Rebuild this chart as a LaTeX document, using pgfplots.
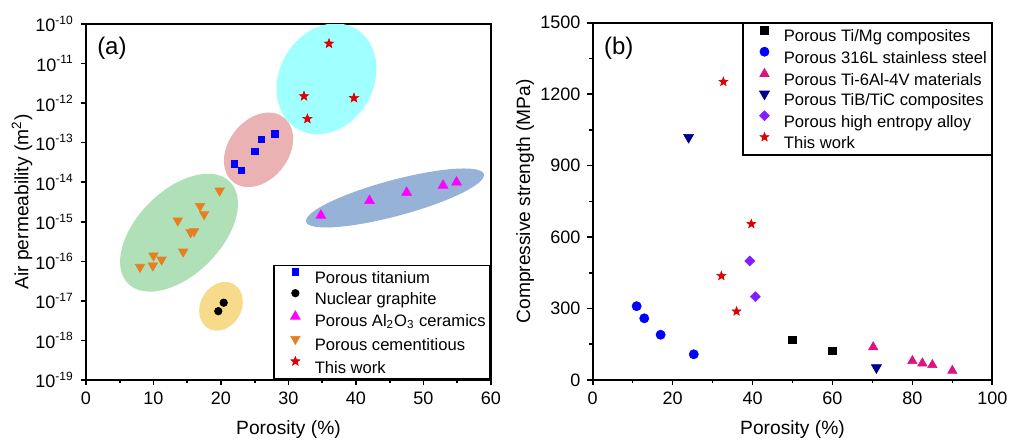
\documentclass[border=0pt]{standalone}
\usepackage{fontspec}
\setmainfont{Liberation Sans}
\usepackage{pgfplots}
\pgfplotsset{compat=1.18}

\definecolor{cBlue}{RGB}{0,0,255}
\definecolor{cMag}{RGB}{255,0,255}
\definecolor{cOrange}{RGB}{230,126,34}
\definecolor{cRed}{RGB}{222,0,0}
\definecolor{cPink}{RGB}{220,20,130}
\definecolor{cNavy}{RGB}{0,0,140}
\definecolor{cPurple}{RGB}{130,30,255}
\definecolor{eCyan}{RGB}{160,255,255}
\definecolor{ePink}{RGB}{234,178,178}
\definecolor{eGreen}{RGB}{176,224,184}
\definecolor{eYellow}{RGB}{247,219,138}
\definecolor{eBlue}{RGB}{150,178,214}

\newcommand{\lst}{\rule[-1.6pt]{0pt}{1.6pt}}

\pgfdeclareplotmark{fstar}{%
  \pgfpathmoveto{\pgfpointpolar{90}{\pgfplotmarksize}}%
  \pgfpathlineto{\pgfpointpolar{126}{0.42\pgfplotmarksize}}%
  \pgfpathlineto{\pgfpointpolar{162}{\pgfplotmarksize}}%
  \pgfpathlineto{\pgfpointpolar{198}{0.42\pgfplotmarksize}}%
  \pgfpathlineto{\pgfpointpolar{234}{\pgfplotmarksize}}%
  \pgfpathlineto{\pgfpointpolar{270}{0.42\pgfplotmarksize}}%
  \pgfpathlineto{\pgfpointpolar{306}{\pgfplotmarksize}}%
  \pgfpathlineto{\pgfpointpolar{342}{0.42\pgfplotmarksize}}%
  \pgfpathlineto{\pgfpointpolar{18}{\pgfplotmarksize}}%
  \pgfpathlineto{\pgfpointpolar{54}{0.42\pgfplotmarksize}}%
  \pgfpathclose\pgfusepathqfillstroke}

\pgfplotsset{
  common/.style={
    scale only axis, anchor=south west,
    tick align=outside, tick pos=left,
    axis line style={line width=0.8pt, black},
    every tick/.style={line width=0.8pt, black},
    major tick length=2.6pt, minor tick length=1.6pt,
    tick label style={font=\fontsize{9}{10}\selectfont},
    label style={font=\fontsize{9.6}{11}\selectfont},
    /pgf/number format/assume math mode=true,
    /pgf/number format/1000 sep={},
    xlabel style={at={(axis description cs:0.5,-0.14)}, anchor=center},
    legend image code/.code={\path[draw=none,fill=none] (0pt,2.9pt) (17pt,2.9pt); \draw[##1] plot coordinates {(8.5pt,2.9pt)};},
    legend cell align=left,
  },
  lstyle/.style={
    draw=black, line width=0.8pt, fill=white,
    font=\fontsize{8.3}{10}\selectfont,
    inner xsep=2.3pt, inner ysep=1.5pt,
    row sep=1.3pt, column sep=1.2pt,
    nodes={inner sep=0pt, text height=7.5pt, text depth={}},
  },
}

\begin{document}
\begin{tikzpicture}
\useasboundingbox (0pt,0pt) rectangle (504.5pt,220pt);

% ---------------- (a)
\begin{axis}[common,
  at={(43pt,30pt)}, width=202.5pt, height=178pt,
  xmin=0, xmax=60, xtick={0,10,...,60}, minor x tick num=1,
  ymode=log, ymin=1e-19, ymax=1e-10,
  ytick={1e-19,1e-18,1e-17,1e-16,1e-15,1e-14,1e-13,1e-12,1e-11,1e-10},
  yticklabels={10\textsuperscript{-19},10\textsuperscript{-18},10\textsuperscript{-17},10\textsuperscript{-16},10\textsuperscript{-15},10\textsuperscript{-14},10\textsuperscript{-13},10\textsuperscript{-12},10\textsuperscript{-11},10\textsuperscript{-10}},
  yminorticks=false,
  xlabel={Porosity (\%)},
  ylabel={Air permeability (m\textsuperscript{2})},
  ylabel style={at={(axis description cs:-0.158,0.5)}, anchor=center},
  legend style={lstyle, at={(1,0)}, anchor=south east},
]
\fill[eCyan, rotate around={60:(axis cs:35.63,4.11e-12)}] (axis cs:35.63,4.11e-12) ellipse [x radius=29pt, y radius=23.5pt];
\fill[ePink, rotate around={52:(axis cs:25.56,6.6e-14)}] (axis cs:25.56,6.6e-14) ellipse [x radius=20.5pt, y radius=15pt];
\fill[eGreen, rotate around={45:(axis cs:13.78,5.3e-16)}] (axis cs:13.78,5.3e-16) ellipse [x radius=36pt, y radius=21pt];
\fill[eYellow, rotate around={60:(axis cs:20.0,7.3e-18)}] (axis cs:20.0,7.3e-18) ellipse [x radius=12.75pt, y radius=10.25pt];
\fill[eBlue, rotate around={15:(axis cs:45.78,4.0e-15)}] (axis cs:45.78,4.0e-15) ellipse [x radius=46pt, y radius=9pt];

\addplot[only marks, mark=square*, mark size=1.6pt, color=cBlue, mark options={line width=0.3pt}]
  coordinates {(22.0,2.9e-14) (23.0,2.0e-14) (25.0,6.0e-14) (26.0,1.2e-13) (28.0,1.66e-13)};
\addlegendentry{\lst Porous titanium}
\addplot[only marks, mark=*, mark size=1.9pt, color=black, mark options={line width=0.3pt}]
  coordinates {(19.6,5.5e-18) (20.4,9.0e-18)};
\addlegendentry{\lst Nuclear graphite}
\addplot[only marks, mark=triangle*, mark size=2.8pt, color=cMag, mark options={line width=0.3pt}]
  coordinates {(34.8,1.45e-15) (42.0,3.4e-15) (47.5,5.5e-15) (52.9,8.3e-15) (54.9,1.0e-14)};
\addlegendentry{\rule[-3.4pt]{0pt}{3.4pt}Porous Al\textsubscript{2}O\textsubscript{3} ceramics}
\addplot[only marks, mark=triangle*, mark size=2.7pt, color=cOrange, mark options={rotate=180, line width=0.3pt}]
  coordinates {(8.0,7.2e-17) (9.9,7.8e-17) (10.0,1.4e-16) (11.2,1.1e-16) (13.6,1.07e-15) (14.4,1.75e-16) (15.5,5.4e-16) (16.0,5.7e-16) (16.9,2.5e-15) (17.5,1.55e-15) (19.8,6.1e-15)};
\addlegendentry{\lst Porous cementitious}
\addplot[only marks, mark=fstar, mark size=2.4pt, color=cRed, mark options={line width=0.3pt}]
  coordinates {(36.0,3.2e-11) (32.3,1.5e-12) (39.7,1.35e-12) (32.8,4.0e-13)};
\addlegendentry{\lst This work}
\node[font=\fontsize{12}{14}\selectfont] at (axis description cs:0.064,0.931) {(a)};
\end{axis}

% ---------------- (b)
\begin{axis}[common,
  at={(296.35pt,30pt)}, width=199.8pt, height=178.65pt,
  xmin=0, xmax=100, xtick={0,20,...,100}, minor x tick num=1,
  ymin=0, ymax=1500, ytick={0,300,...,1500}, minor y tick num=1,
  scaled y ticks=false,
  xlabel={Porosity (\%)},
  ylabel={Compressive strength (MPa)},
  ylabel style={at={(axis description cs:-0.169,0.5)}, anchor=center},
  legend style={lstyle, at={(1,1)}, anchor=north east, row sep=0.9pt},
]
\addplot[only marks, mark=square*, mark size=1.9pt, color=black, mark options={line width=0.3pt}]
  coordinates {(50.0,168) (60.0,122)};
\addlegendentry{\lst Porous Ti/Mg composites}
\addplot[only marks, mark=*, mark size=2.3pt, color=cBlue, mark options={line width=0.3pt}]
  coordinates {(11.0,310) (12.9,259) (17.0,190) (25.3,108)};
\addlegendentry{\lst Porous 316L stainless steel}
\addplot[only marks, mark=triangle*, mark size=2.7pt, color=cPink, mark options={line width=0.3pt}]
  coordinates {(70.2,138) (80.0,80) (82.5,70) (85.0,63) (90.0,39)};
\addlegendentry{\lst Porous Ti-6Al-4V materials}
\addplot[only marks, mark=triangle*, mark size=2.9pt, color=cNavy, mark options={rotate=180, line width=0.3pt}]
  coordinates {(24.0,1019) (71.0,52)};
\addlegendentry{\lst Porous TiB/TiC composites}
\addplot[only marks, mark=square*, mark size=1.75pt, color=cPurple, mark options={rotate=45, line width=0.3pt}]
  coordinates {(39.3,500) (40.7,350)};
\addlegendentry{\lst Porous high entropy alloy}
\addplot[only marks, mark=fstar, mark size=2.3pt, color=cRed, mark options={line width=0.3pt}]
  coordinates {(32.7,1252) (39.7,655) (32.2,437) (36.0,288)};
\addlegendentry{\lst This work}
\node[font=\fontsize{12}{14}\selectfont] at (axis description cs:0.065,0.928) {(b)};
\end{axis}
\end{tikzpicture}
\end{document}
